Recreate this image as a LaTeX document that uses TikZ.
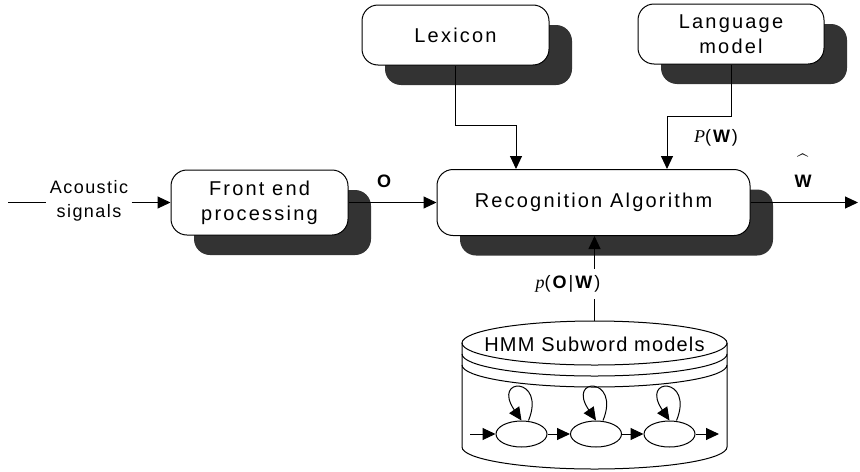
\documentclass[tikz,border=0pt]{standalone}
\usepackage{fontspec}
\setmainfont{Liberation Sans}
\newfontfamily\boxfont[LetterSpace=11]{Liberation Sans}
\newfontfamily\acfont[LetterSpace=8]{Liberation Sans}
\newfontfamily\hmmfont[LetterSpace=6]{Liberation Sans}
\newfontfamily\tmsfont{Liberation Serif}
\usetikzlibrary{arrows.meta,shadows,shapes.geometric}
\begin{document}
\begin{tikzpicture}[x=0.5pt,y=-0.5pt,line width=0.5pt,
  arr/.style={-{Triangle[length=6.5pt,width=6pt]}},
  blk/.style={draw, fill=white, rounded corners=8pt, align=center, inner sep=0pt,
    font=\boxfont\fontsize{10}{12.5}\selectfont,
    drop shadow={shadow xshift=11.5pt, shadow yshift=-10pt, fill=black!80, opacity=1}},
  lbl/.style={font=\boxfont\fontsize{9}{11}\selectfont, inner sep=1pt},
  st/.style={draw, ellipse, minimum width=25.5pt, minimum height=13pt, inner sep=0pt}
]
\useasboundingbox (0,0) rectangle (860,471);

% blocks
\node[blk, minimum width=88.5pt, minimum height=32.5pt] (front) at (259.5,202.5) {Front end\\processing};
\node[blk, minimum width=156.5pt, minimum height=33pt] (rec) at (593.5,202.5) {Recognition Algorithm};
\node[blk, minimum width=93.5pt, minimum height=30pt] (lex) at (455.5,35) {Lexicon};
\node[blk, minimum width=93pt, minimum height=30pt] (lm) at (731,34) {Language\\model};

% input
\node[font=\acfont\fontsize{9}{12}\selectfont, align=center, inner sep=1.5pt] (ac) at (89,201) {Acoustic\\signals};
\coordinate (in0) at (8,202.5);
\draw (in0) -- (in0 -| ac.west);
\draw[arr] (ac.east |- front.west) -- (front.west);

% front -> rec
\draw[arr] (front.east) -- (rec.west);
\node[lbl, font=\bfseries\fontsize{9}{11}\selectfont, anchor=base] (olbl) at (384,187) {O};

% output
\coordinate (out) at (858,202.5);
\draw[arr] (rec.east) -- (out);
\node[lbl, font=\bfseries\fontsize{9}{11}\selectfont, anchor=base] (what) at (803,187.5) {W};
\node[inner sep=0pt, anchor=south] (hat) at (803,169) {$\widehat{\hphantom{\hbox{\bfseries W}}}$};

% top connectors
\coordinate (lexbend) at (516,125);
\draw[arr] (lex.south) |- (lexbend) -- (rec.north -| lexbend);
\coordinate (lmbend) at (667,116);
\draw[arr] (lm.south) |- (lmbend) -- (rec.north -| lmbend);
\node[lbl] (pw) at (716,138) {{\tmsfont\itshape P}(\textbf{W})};

% HMM cylinder
\draw (462,343) -- (462,447) arc[start angle=180, end angle=360, x radius=66.25pt, y radius=11pt] -- (727,343);
\draw (594.5,343) ellipse[x radius=66.25pt, y radius=11pt];
\draw (462,354) arc[start angle=180, end angle=360, x radius=66.25pt, y radius=11pt];
\draw (462,365) arc[start angle=180, end angle=360, x radius=66.25pt, y radius=11pt];
\node[font=\hmmfont\fontsize{10}{12}\selectfont, inner sep=0pt] (hmm) at (594.5,344) {HMM Subword models};

% bottom connector
\coordinate (cyltop) at (594.5,321);
\draw[arr] (cyltop) -- (rec.south -| cyltop);
\node[lbl, fill=white, inner sep=2pt, minimum height=15pt] (pow) at (568,284) {{\tmsfont\itshape p}(\textbf{O}|\textbf{W})};

% HMM states
\node[st] (s1) at (521.5,434) {};
\node[st] (s2) at (596,434) {};
\node[st] (s3) at (669.5,434) {};
\coordinate (hin) at (470,434);
\coordinate (hout) at (719,434);
\draw[arr] (hin) -- (s1);
\draw[arr] (s1) -- (s2);
\draw[arr] (s2) -- (s3);
\draw[arr] (s3) -- (hout);
\foreach \s in {s1,s2,s3}{
  \draw[arr] ([xshift=3.5pt]\s.north) .. controls +(9pt,22pt) and +(-15pt,22pt) .. (\s.north);
}
\end{tikzpicture}
\end{document}
